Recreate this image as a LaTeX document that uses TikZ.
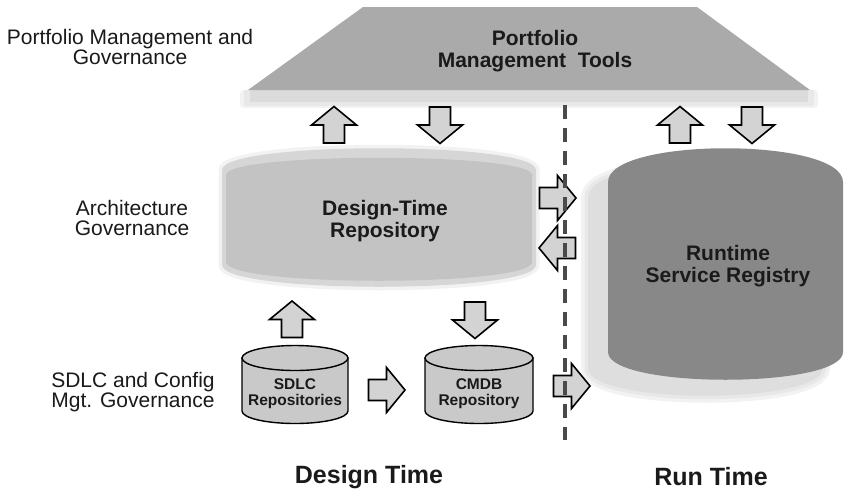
\documentclass[tikz,border=0pt]{standalone}
\usepackage{fontspec}
\setmainfont{Liberation Sans}
\definecolor{trapfill}{HTML}{AAAAAA}
\definecolor{repoouter}{HTML}{D6D6D6}
\definecolor{repoinner}{HTML}{C3C3C3}
\definecolor{arrowfill}{HTML}{D3D3D3}
\definecolor{cylfill}{HTML}{C9C9C9}
\definecolor{rtfill}{HTML}{888888}
\definecolor{dashcol}{HTML}{4A4A4A}
\definecolor{txt}{HTML}{1A1A1A}
\tikzset{
  lbl/.style={align=center,inner sep=0pt,text=txt,font=\fontsize{21}{20}\selectfont},
  ttl/.style={align=center,inner sep=0pt,text=txt,font=\fontsize{21}{22}\selectfont\bfseries},
  small/.style={align=center,inner sep=0pt,text=txt,font=\fontsize{15.5}{16}\selectfont\bfseries},
  big/.style={inner sep=0pt,text=txt,font=\fontsize{25}{25}\selectfont\bfseries},
  arrowstyle/.style={draw=black,fill=arrowfill,line width=1.6pt,line join=miter},
  cylstyle/.style={draw=black,fill=cylfill,line width=1.4pt},
  dashline/.style={draw=dashcol,line width=4pt,dash pattern=on 14pt off 9pt},
  halo/.style args={#1 and #2}{fill=#1,draw=#1,line width=#2,line join=round},
  barrow/.pic={\path[arrowstyle] (-18,-10.5) -- (0,-10.5) -- (0,-22.5) -- (18.5,0) -- (0,22.5) -- (0,10.5) -- (-18,10.5) -- cycle;}
}
\newcommand{\rtshape}{(608,182) .. controls (608,137) and (843,137) .. (843,182) -- (843,352) .. controls (843,389) and (608,389) .. (608,352) -- cycle}
\newcommand{\dtshape}{(222,170) .. controls (222,141) and (536,141) .. (536,170) -- (536,265) .. controls (536,294) and (222,294) .. (222,265) -- cycle}
\begin{document}
\begin{tikzpicture}[x=1pt,y=-1pt]
\useasboundingbox (0,0) rectangle (845,493);
\fill[white] (0,0) rectangle (845,493);

% --- Portfolio management tools (trapezoid) ---
\path[halo={black!5 and 8pt}] (244,94) rectangle (814,104);
\path[halo={black!9 and 4pt}] (246,92) rectangle (812,104);
\fill[black!14] (250,90) rectangle (808,102);
\fill[trapfill] (363,7) -- (697,7) -- (810,90) -- (248,90) -- cycle;
\node[ttl] (pmt) at (535,51) {Portfolio\\Management\ \ Tools};

% --- left labels ---
\node[lbl] (lpm) at (130,47) {Portfolio Management and\\Governance};
\node[lbl] (lag) at (132,218) {Architecture\\Governance};
\node[lbl] (lsd) at (133,392) {SDLC and Config\\Mgt. Governance};

% --- Design-Time Repository ---
\path[halo={black!5 and 7pt}] \dtshape;
\fill[repoouter] \dtshape;
\fill[repoinner] (226,175) .. controls (226,152) and (532,152) .. (532,175) -- (532,262) .. controls (532,287) and (226,287) .. (226,262) -- cycle;
\node[ttl] (dtr) at (385,221) {Design-Time\\Repository};

% --- Runtime Service Registry ---
\begin{scope}[shift={(-20pt,-16pt)}]
  \path[halo={black!5 and 14pt}] \rtshape;
  \path[halo={black!9 and 7pt}] \rtshape;
  \fill[black!13] \rtshape;
\end{scope}
\fill[rtfill] \rtshape;
\node[ttl] (rsr) at (728,266) {Runtime\\Service Registry};

% --- small cylinders ---
\path[cylstyle] (242,358) -- (242,411) .. controls (242,417.9) and (265.7,423.5) .. (295,423.5) .. controls (324.3,423.5) and (348,417.9) .. (348,411) -- (348,358) -- cycle;
\path[cylstyle] (295,358) ellipse [x radius=53, y radius=12.5];
\node[small] (sdlc) at (295,394) {SDLC\\Repositories};

\path[cylstyle] (425,358) -- (425,411) .. controls (425,417.9) and (448.9,423.5) .. (479,423.5) .. controls (509.1,423.5) and (533,417.9) .. (533,411) -- (533,358) -- cycle;
\path[cylstyle] (479,358) ellipse [x radius=54, y radius=12.5];
\node[small] (cmdb) at (479,394) {CMDB\\Repository};

% --- block arrows ---
\pic[rotate=90] (a1) at (334,125) {barrow};
\pic[rotate=-90] (a2) at (440,125) {barrow};
\pic[rotate=90] (a3) at (680,125) {barrow};
\pic[rotate=-90] (a4) at (752,125) {barrow};
\pic (a5) at (557.5,198) {barrow};
\pic[rotate=180] (a6) at (557.5,248) {barrow};
\pic[rotate=90] (a7) at (292,319.5) {barrow};
\pic[rotate=-90] (a8) at (475,320) {barrow};
\pic (a9) at (386.5,390) {barrow};
\pic (a10) at (571.5,386) {barrow};

% --- dashed separator ---
\coordinate (dtop) at (565,105);
\coordinate (dbot) at (565,440);
\draw[dashline] (dtop) -- (dbot);

% --- bottom titles ---
\node[big] (dt) at (369,477) {Design Time};
\node[big] (rt) at (711,477) {Run Time};
\end{tikzpicture}
\end{document}
